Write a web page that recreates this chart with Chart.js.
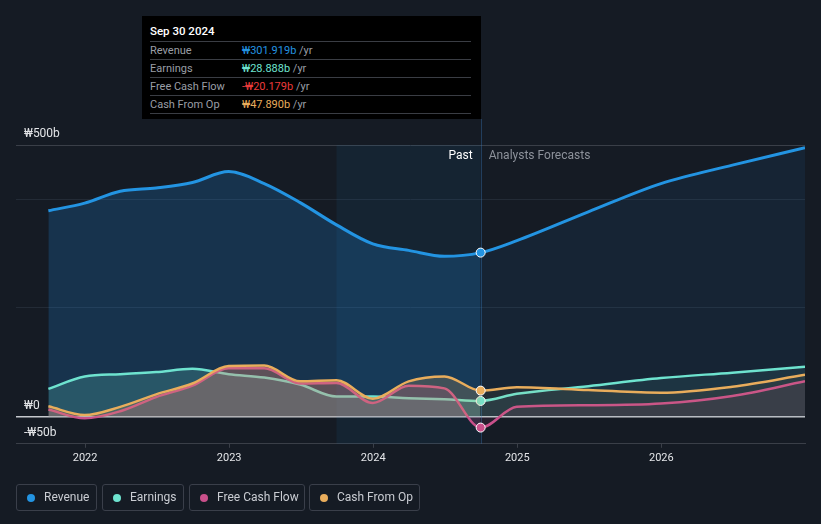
<!DOCTYPE html>
<html>
<head>
<meta charset="utf-8">
<script src="https://cdn.jsdelivr.net/npm/chart.js@4.4.1/dist/chart.umd.min.js"></script>
<style>
  body { margin: 0; background: #151b24; font-family: Roboto, "Noto Sans", sans-serif; }
  #wrap { position: relative; width: 821px; height: 524px; }
  #chart { position: absolute; left: 0; top: 0; }
  #tip { position: absolute; left: 142px; top: 16px; width: 339px; height: 103px; background: #000; box-sizing: border-box; padding: 7px 10px 0 8px; }
  #tip .title { color: #fff; font-size: 11.5px; font-weight: 500; height: 18px; line-height: 17px; border-bottom: 1px solid #3a3d44; }
  #tip .row { height: 17px; line-height: 17px; font-size: 11px; color: #9a9ea6; border-bottom: 1px solid #3a3d44; }
  #tip .row span.l { display: inline-block; width: 92px; }
  #tip .row span.u { color: #9a9ea6; }
  #legend { position: absolute; left: 16px; top: 484px; }
  #legend .item { position: absolute; top: 0; height: 27px; box-sizing: border-box; border: 1px solid #3a3f4a; border-radius: 3px; color: #c9ccd2; font-size: 12px; line-height: 25px; padding-left: 27px; white-space: nowrap; }
  #legend .item i { position: absolute; left: 10px; top: 8.5px; width: 8px; height: 8px; border-radius: 50%; }
</style>
</head>
<body>
<div id="wrap">
  <canvas id="chart" width="821" height="524"></canvas>
  <div id="tip"></div>
  <div id="legend"></div>
</div>
<script>
// quarter ends (past, trailing twelve months) then analyst forecasts
var periods = ['2021-09-30', '2021-12-31', '2022-03-31', '2022-06-30', '2022-09-30', '2022-12-31',
               '2023-03-31', '2023-06-30', '2023-09-30', '2023-12-31', '2024-03-31', '2024-06-30',
               '2024-09-30', '2024-12-31', '2025-06-30', '2025-12-31', '2026-06-30', '2026-12-31'];
var pastEnd = 12;     // Sep 30 2024
var bandStart = 8;    // Sep 30 2023

// values in ₩ billions
var revenue     = [379, 393, 415, 421, 431, 451, 429, 394, 353, 318, 306, 295, 301.919, 324, 377, 429, 463, 495];
var earnings    = [51, 74, 78, 82, 88, 78, 72, 59, 37, 37, 34, 32, 28.888, 42, 56, 71, 81, 92];
var freeCash    = [13, -3, 10, 36, 57, 89, 89, 61, 62, 25, 57, 52, -20.179, 18, 21, 24, 38, 65];
var cashFromOp  = [19, 3, 18, 41, 61, 93, 94, 65, 67, 33, 65, 74, 47.890, 54, 49, 44, 55, 77];

var yTicks = [-50, 0, 200, 400, 500];
var yearTicks = [2022, 2023, 2024, 2025, 2026];

function toYear(s) {
  var d = new Date(s + 'T00:00:00Z');
  var y = d.getUTCFullYear();
  var start = Date.UTC(y, 0, 1), end = Date.UTC(y + 1, 0, 1);
  return y + (d.getTime() - start) / (end - start);
}
var xs = periods.map(toYear);

function fmt(v) {
  return (v < 0 ? '-₩' : '₩') + Math.abs(v).toFixed(3) + 'b';
}

var series = [
  { name: 'Revenue',        data: revenue,    line: '#2394e2', tip: '#2394e2', past: 'rgba(33,150,243,0.20)',  fut: 'rgba(33,150,243,0.08)', width: 3,   order: 4, left: 0,   w: 81 },
  { name: 'Earnings',       data: earnings,   line: '#6ee3cf', tip: '#6ee3cf', past: 'rgba(110,227,207,0.20)', fut: 'rgba(110,227,207,0.09)', width: 2.5, order: 3, left: 86,  w: 82 },
  { name: 'Free Cash Flow', data: freeCash,   line: '#c9508b', tip: '#ec3b3b', past: 'rgba(201,80,139,0.20)',  fut: 'rgba(201,80,139,0.09)', width: 2.5, order: 2, left: 173, w: 116 },
  { name: 'Cash From Op',   data: cashFromOp, line: '#e9ad5c', tip: '#e9ad5c', past: 'rgba(233,173,92,0.20)',  fut: 'rgba(233,173,92,0.07)', width: 2.5, order: 1, left: 293, w: 111 }
];

// tooltip box and legend
var tip = document.getElementById('tip');
var html = '<div class="title">Sep 30 2024</div>';
series.forEach(function (s) {
  html += '<div class="row"><span class="l">' + s.name + '</span><span style="color:' + s.tip + '">' +
          fmt(s.data[pastEnd]) + '</span> <span class="u">/yr</span></div>';
});
tip.innerHTML = html;

var legend = document.getElementById('legend');
series.forEach(function (s) {
  var el = document.createElement('div');
  el.className = 'item';
  el.style.left = s.left + 'px';
  el.style.width = s.w + 'px';
  el.innerHTML = '<i style="background:' + s.line + '"></i>' + s.name;
  legend.appendChild(el);
});

var pastFuture = {
  id: 'pastFuture',
  beforeDatasetsDraw: function (chart) {
    var ctx = chart.ctx, x = chart.scales.x, a = chart.chartArea;
    var x0 = x.getPixelForValue(xs[bandStart]);
    var x1 = x.getPixelForValue(xs[pastEnd]);
    ctx.save();
    ctx.fillStyle = 'rgba(33,150,243,0.07)';
    ctx.fillRect(x0, a.top, x1 - x0, a.bottom - a.top);
    ctx.strokeStyle = 'rgba(60,130,200,0.35)';
    ctx.lineWidth = 1;
    ctx.beginPath();
    ctx.moveTo(Math.round(x1) + 0.5, 119);
    ctx.lineTo(Math.round(x1) + 0.5, a.bottom);
    ctx.stroke();
    ctx.font = '12px Roboto';
    ctx.textBaseline = 'middle';
    ctx.textAlign = 'right';
    ctx.fillStyle = '#ffffff';
    ctx.fillText('Past', x1 - 8, a.top + 11);
    ctx.textAlign = 'left';
    ctx.fillStyle = '#8d929b';
    ctx.fillText('Analysts Forecasts', x1 + 8, a.top + 11);
    ctx.restore();
  }
};

var datasets = series.map(function (s) {
  return {
    label: s.name,
    data: s.data.map(function (v, i) { return { x: xs[i], y: v }; }),
    borderColor: s.line,
    borderWidth: s.width,
    backgroundColor: s.past,
    fill: 'origin',
    order: s.order,
    cubicInterpolationMode: 'monotone',
    pointRadius: function (c) { return c.dataIndex === pastEnd ? 4.5 : 0; },
    pointBackgroundColor: s.line,
    pointBorderColor: '#ffffff',
    pointBorderWidth: 1,
    segment: {
      backgroundColor: function (c) { return c.p0DataIndex >= pastEnd ? s.fut : s.past; }
    }
  };
});

new Chart(document.getElementById('chart'), {
  type: 'line',
  data: { datasets: datasets },
  plugins: [pastFuture],
  options: {
    responsive: false,
    animation: false,
    events: [],
    layout: { padding: { left: 0, right: 16, top: 145, bottom: 55 } },
    plugins: { legend: { display: false }, tooltip: { enabled: false } },
    scales: {
      x: {
        type: 'linear',
        min: toYear('2021-07-10'),
        max: toYear('2026-12-31'),
        afterBuildTicks: function (scale) { scale.ticks = yearTicks.map(function (v) { return { value: v }; }); },
        ticks: { color: '#e3e5e8', font: { family: 'Roboto', size: 11 }, padding: 4, maxRotation: 0,
                 callback: function (v) { return String(v); } },
        grid: { drawOnChartArea: false, color: '#3a3f48', tickLength: 4 },
        border: { color: '#3a3f48' }
      },
      y: {
        min: -50,
        max: 500,
        afterBuildTicks: function (scale) { scale.ticks = yTicks.map(function (v) { return { value: v }; }); },
        ticks: {
          mirror: true, padding: 8, labelOffset: -11, color: '#e3e5e8', font: { family: 'Roboto', size: 12 },
          callback: function (v) {
            if (v === 0) return '₩0';
            if (v === 500) return '₩500b';
            if (v === -50) return '-₩50b';
            return '';
          }
        },
        grid: {
          drawTicks: false,
          color: function (c) {
            var v = c.tick.value;
            if (v === 0) return '#c6c9ce';
            if (v === 500 || v === -50) return '#3a3f48';
            return '#232b36';
          },
          lineWidth: function (c) { return c.tick.value === 0 ? 1.5 : 1; }
        },
        border: { display: false }
      }
    }
  }
});
</script>
</body>
</html>
